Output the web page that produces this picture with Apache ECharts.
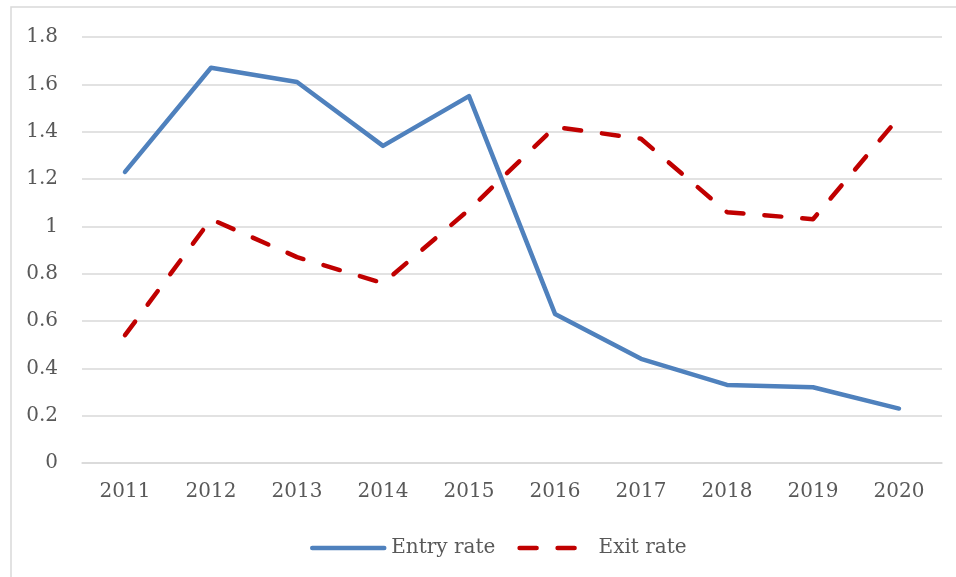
<!DOCTYPE html>
<html>
<head>
<meta charset="utf-8">
<script src="https://cdn.jsdelivr.net/npm/echarts@6/dist/echarts.min.js"></script>
<style>html,body{margin:0;padding:0;background:#fff}#c{width:956px;height:577px}</style>
</head>
<body>
<div id="c"></div>
<script>
var years = ['2011','2012','2013','2014','2015','2016','2017','2018','2019','2020'];
var entryRate = [1.23, 1.67, 1.61, 1.34, 1.55, 0.63, 0.44, 0.33, 0.32, 0.23];
var exitRate = [0.54, 1.03, 0.87, 0.76, 1.07, 1.42, 1.37, 1.06, 1.03, 1.46];
var yTicks = {min: 0, max: 1.8, interval: 0.2};

var font = 'DejaVu Serif';
var chart = echarts.init(document.getElementById('c'), null, {renderer: 'canvas'});
chart.setOption({
  animation: false,
  backgroundColor: '#fff',
  graphic: [{
    type: 'rect', shape: {x: 11, y: 7, width: 960, height: 600},
    style: {fill: 'none', stroke: '#d9d9d9', lineWidth: 1.5}, silent: true
  }],
  grid: {left: 82, right: 14, top: 37, bottom: 114, containLabel: false},
  legend: {
    bottom: 14, left: 305, itemWidth: 72, itemHeight: 14, itemGap: 22,
    textStyle: {fontFamily: font, fontSize: 20, color: '#595959', padding: [0, 0, 0, 2]},
    itemStyle: {opacity: 0},
    lineStyle: {width: 4.5, cap: 'round'},
    data: ['Entry rate', 'Exit rate']
  },
  xAxis: {
    type: 'category', data: years, boundaryGap: true,
    axisLine: {show: true, lineStyle: {color: '#d9d9d9', width: 1.5}},
    axisTick: {show: false},
    axisLabel: {fontFamily: font, fontSize: 20, color: '#595959', margin: 19}
  },
  yAxis: {
    type: 'value', min: yTicks.min, max: yTicks.max, interval: yTicks.interval,
    axisLine: {show: false}, axisTick: {show: false},
    splitLine: {lineStyle: {color: '#d9d9d9', width: 1.5}},
    axisLabel: {fontFamily: font, fontSize: 20, color: '#595959', margin: 24,
      formatter: function (v) { return String(Math.round(v * 10) / 10); }}
  },
  series: [{
    name: 'Entry rate', type: 'line', data: entryRate, symbol: 'none',
    lineStyle: {color: '#4F81BD', width: 4.5, cap: 'round', join: 'round'},
    itemStyle: {color: '#4F81BD'}
  }, {
    name: 'Exit rate', type: 'line', data: exitRate, symbol: 'none',
    lineStyle: {color: '#C00000', width: 4.5, type: [17, 21], cap: 'round', join: 'round'},
    itemStyle: {color: '#C00000'}
  }]
});
</script>
</body>
</html>
